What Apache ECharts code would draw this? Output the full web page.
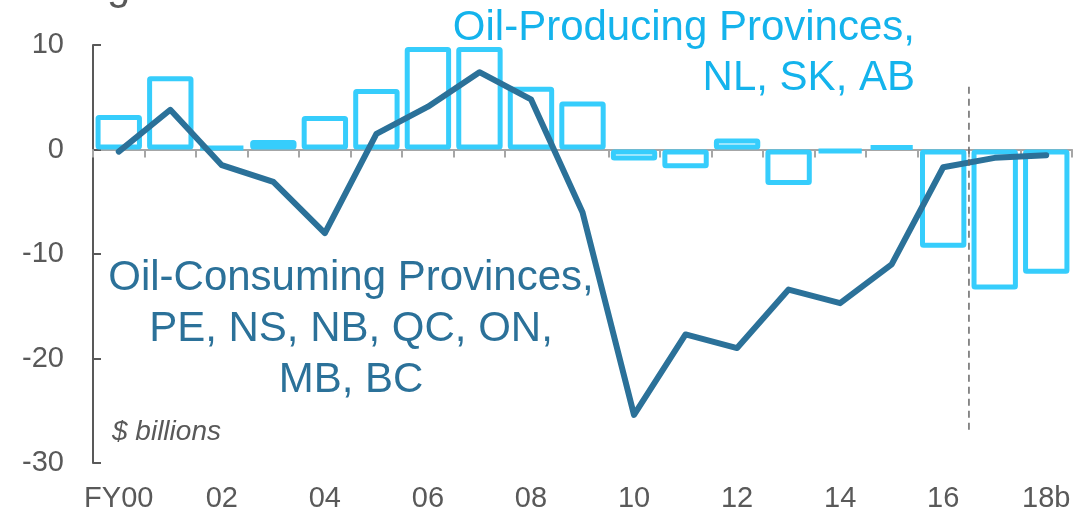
<!DOCTYPE html>
<html>
<head>
<meta charset="utf-8">
<script src="https://cdn.jsdelivr.net/npm/echarts@6/dist/echarts.min.js"></script>
<style>
  html, body { margin: 0; padding: 0; background: #fff; }
  #chart { width: 1075px; height: 516px; }
</style>
</head>
<body>
<div id="chart"></div>
<script>
// fiscal years, FY00 .. FY18 (budget)
const years = ['FY00', '01', '02', '03', '04', '05', '06', '07', '08', '09',
  '10', '11', '12', '13', '14', '15', '16', '17', '18b']

// oil-producing provinces (NL, SK, AB), $ billions
const producing = [3.3, 7.0, 0.3, 0.9, 3.2, 5.8, 9.8, 9.8, 6.0, 4.6,
  -1.05, -1.8, 1.05, -3.4, -0.3, 0.4, -9.4, -13.4, -11.9]

// oil-consuming provinces (PE, NS, NB, QC, ON, MB, BC), $ billions
const consuming = [-0.2, 3.8, -1.5, -3.1, -8.0, 1.5, 4.1, 7.4, 4.8, -6.0,
  -25.4, -17.7, -19.0, -13.4, -14.7, -11.0, -1.7, -0.8, -0.55]

// forecast divider: between FY16 and FY17
const dividerX = 17
const dividerY = [6, -27]

const yTicks = { min: -30, max: 10, step: 10 }

const grey = '#595959'
const lightBlue = '#36cdfc'
const darkBlue = '#2b7199'

const chart = echarts.init(document.getElementById('chart'))

const option = {
  animation: false,
  grid: { left: 93, right: 3, top: 45, bottom: 53, containLabel: false },
  xAxis: [
    {
      type: 'category',
      data: years,
      position: 'bottom',
      axisLine: { onZero: true, lineStyle: { color: '#a6a6a6', width: 2 } },
      axisTick: { show: true, length: 8, lineStyle: { color: '#a6a6a6', width: 2 } },
      axisLabel: { show: false },
      splitLine: { show: false }
    },
    {
      type: 'category',
      data: years,
      position: 'bottom',
      axisLine: { show: false, onZero: false },
      axisTick: { show: false },
      axisLabel: {
        interval: 1,
        margin: 21,
        color: grey,
        fontFamily: 'Liberation Sans, Arial, sans-serif',
        fontSize: 29
      },
      splitLine: { show: false }
    },
    {
      type: 'value',
      min: 0,
      max: years.length,
      show: false
    }
  ],
  yAxis: {
    type: 'value',
    min: yTicks.min,
    max: yTicks.max,
    interval: yTicks.step,
    axisLine: { show: true, lineStyle: { color: grey, width: 2 } },
    axisTick: { show: true, inside: true, length: 8, lineStyle: { color: grey, width: 2 } },
    axisLabel: {
      margin: 29,
      color: grey,
      fontFamily: 'Liberation Sans, Arial, sans-serif',
      fontSize: 29
    },
    splitLine: { show: false }
  },
  series: [
    {
      name: 'Oil-Producing Provinces',
      type: 'bar',
      xAxisIndex: 0,
      data: producing,
      barCategoryGap: '10%',
      itemStyle: {
        color: 'rgba(255,255,255,0)',
        borderColor: lightBlue,
        borderWidth: 5,
        borderRadius: 1
      },
      z: 1
    },
    {
      name: 'Oil-Consuming Provinces',
      type: 'line',
      xAxisIndex: 0,
      data: consuming,
      symbol: 'none',
      lineStyle: { color: darkBlue, width: 6, cap: 'round', join: 'round' },
      z: 3
    },
    {
      name: 'divider',
      type: 'line',
      xAxisIndex: 2,
      data: dividerY.map(v => [dividerX, v]),
      symbol: 'none',
      lineStyle: { color: '#666666', width: 1.5, type: [7, 5] },
      z: 4
    }
  ],
  graphic: [
    {
      type: 'text',
      left: 107,
      top: -34,
      style: { text: 'g', font: '42px "Liberation Sans", Arial, sans-serif', fill: grey }
    },
    {
      type: 'text',
      x: 915,
      y: 53,
      style: {
        text: 'Oil-Producing Provinces,\nNL, SK, AB',
        font: '42px "Liberation Sans", Arial, sans-serif',
        fill: '#14b3ec',
        align: 'right',
        verticalAlign: 'middle',
        lineHeight: 50
      }
    },
    {
      type: 'text',
      x: 351,
      y: 329,
      style: {
        text: 'Oil-Consuming Provinces,\nPE, NS, NB, QC, ON,\nMB, BC',
        font: '42px "Liberation Sans", Arial, sans-serif',
        fill: darkBlue,
        align: 'center',
        verticalAlign: 'middle',
        lineHeight: 51
      }
    },
    {
      type: 'text',
      x: 112,
      y: 432,
      style: {
        text: '$ billions',
        font: 'italic 28px "Liberation Sans", Arial, sans-serif',
        fill: grey,
        align: 'left',
        verticalAlign: 'middle'
      }
    }
  ]
}

chart.setOption(option)
</script>
</body>
</html>
